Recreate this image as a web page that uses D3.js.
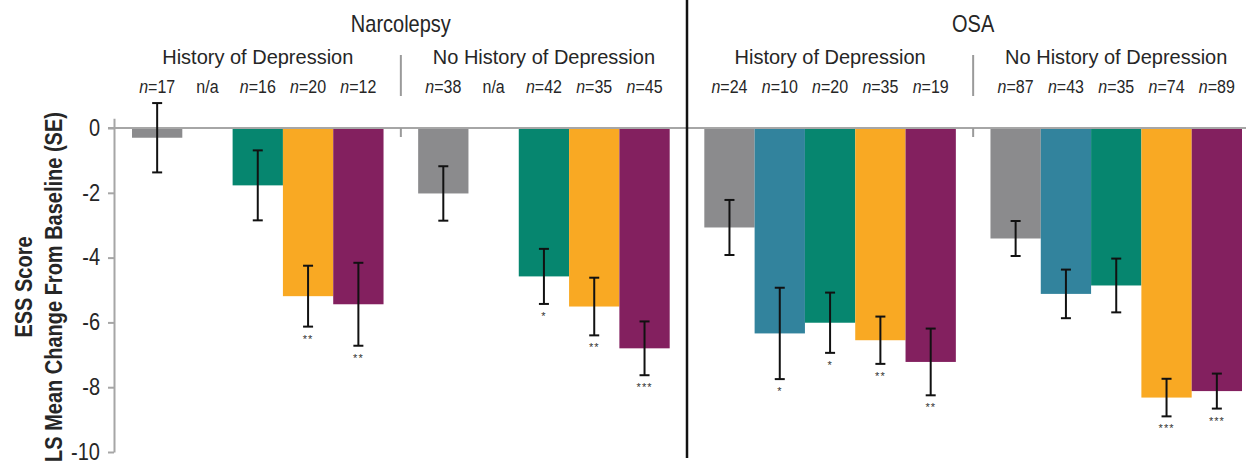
<!DOCTYPE html>
<html>
<head>
<meta charset="utf-8">
<script src="https://cdn.jsdelivr.net/npm/d3@7"></script>
<style>
  body { margin: 0; background: #fff; }
  text { font-family: "Liberation Sans", Arial, sans-serif; fill: #262626; }
</style>
</head>
<body>
<script>
'use strict';

// chart data
const diseases = ["Narcolepsy", "OSA"];
const groupNames = ["History of Depression", "No History of Depression",
                    "History of Depression", "No History of Depression"];
const series = ["Placebo", "37.5 mg", "75 mg", "150 mg", "300 mg"];
const colors = ["#8b8b8d", "#32839d", "#06866f", "#f9a923", "#83205f"];
const nLabels = [["17", null, "16", "20", "12"],
                 ["38", null, "42", "35", "45"],
                 ["24", "10", "20", "35", "19"],
                 ["87", "43", "35", "74", "89"]];
const means = [[-0.30, null, -1.77, -5.19, -5.44],
               [-2.02, null, -4.58, -5.51, -6.80],
               [-3.07, -6.34, -6.01, -6.55, -7.22],
               [-3.41, -5.12, -4.86, -8.32, -8.12]];
const ses = [[1.07, null, 1.08, 0.94, 1.28],
             [0.84, null, 0.85, 0.89, 0.83],
             [0.85, 1.41, 0.93, 0.73, 1.03],
             [0.54, 0.75, 0.83, 0.58, 0.54]];
const sig = [["", null, "", "**", "**"],
             ["", null, "*", "**", "***"],
             ["", "*", "*", "**", "**"],
             ["", "", "", "***", "***"]];
const yTicks = [0, -2, -4, -6, -8, -10];

const W = 1254, H = 469;
const K = 1.15; // the source text is a bit taller than Arial

const svg = d3.select("body").append("svg")
  .attr("width", W)
  .attr("height", H);

// scales
const x0 = d3.scaleBand()
  .domain(d3.range(groupNames.length))
  .range([132, 1242])
  .paddingInner(0.121)
  .paddingOuter(0);

const x1 = d3.scaleBand()
  .domain(d3.range(series.length))
  .range([0, x0.bandwidth()]);

const y = d3.scaleLinear()
  .domain([-10, 0.3])
  .range([452, 118.3]);

// put a text at (x, y) stretched vertically
function addText(parent, tx, ty, str, size, opts) {
  opts = opts || {};
  return parent.append("text")
    .attr("transform", `translate(${tx},${ty})${opts.rotate ? " rotate(" + opts.rotate + ")" : ""} scale(1,${opts.k || K})`)
    .attr("text-anchor", opts.anchor || "middle")
    .style("font-size", size + "px")
    .style("font-weight", opts.bold ? "bold" : null)
    .text(str);
}

// y axis
const yAxis = d3.axisLeft(y)
  .tickValues(yTicks)
  .tickFormat((d) => String(d))
  .tickSize(6)
  .tickSizeOuter(0)
  .tickPadding(8);

const gy = svg.append("g")
  .attr("transform", "translate(114,0)")
  .call(yAxis);
gy.select(".domain").attr("stroke", "#a6a6a6").attr("stroke-width", 2);
gy.selectAll(".tick line").attr("stroke", "#a6a6a6").attr("stroke-width", 2);
gy.selectAll(".tick text")
  .attr("fill", "#262626")
  .style("font-size", "20px")
  .style("font-family", "'Liberation Sans', Arial, sans-serif")
  .attr("transform", `scale(1,${K})`);

// bars
const rows = [];
means.forEach((arr, g) => arr.forEach((v, i) => {
  if (v !== null) rows.push({ g: g, i: i, v: v, se: ses[g][i], sig: sig[g][i] });
}));

svg.selectAll(".bar")
  .data(rows)
  .enter()
  .append("rect")
    .attr("class", "bar")
    .attr("x", (d) => x0(d.g) + x1(d.i))
    .attr("y", y(0))
    .attr("width", x1.bandwidth())
    .attr("height", (d) => y(d.v) - y(0))
    .attr("fill", (d) => colors[d.i]);

// zero line
svg.append("line")
  .attr("x1", 108)
  .attr("x2", 1246)
  .attr("y1", y(0))
  .attr("y2", y(0))
  .attr("stroke", "#a6a6a6")
  .attr("stroke-width", 2);

// error bars
const cx = (d) => x0(d.g) + x1(d.i) + x1.bandwidth() / 2;
const eb = svg.selectAll(".err")
  .data(rows)
  .enter()
  .append("g")
    .attr("class", "err")
    .attr("stroke", "#111")
    .attr("stroke-width", 2);
eb.append("line")
  .attr("x1", cx).attr("x2", cx)
  .attr("y1", (d) => y(d.v + d.se))
  .attr("y2", (d) => y(d.v - d.se));
eb.append("line")
  .attr("x1", (d) => cx(d) - 5).attr("x2", (d) => cx(d) + 5)
  .attr("y1", (d) => y(d.v + d.se)).attr("y2", (d) => y(d.v + d.se));
eb.append("line")
  .attr("x1", (d) => cx(d) - 5).attr("x2", (d) => cx(d) + 5)
  .attr("y1", (d) => y(d.v - d.se)).attr("y2", (d) => y(d.v - d.se));

// significance stars
rows.filter((d) => d.sig).forEach((d) => {
  addText(svg, cx(d), y(d.v - d.se) + 16, d.sig, 11, { k: 1 })
    .style("fill", "#333")
    .style("letter-spacing", "1px");
});

// separators
const bandEnd = (g) => x0(g) + x0.bandwidth();
const sepX = [0, 1, 2].map((g) => (bandEnd(g) + x0(g + 1)) / 2);

svg.append("line")
  .attr("x1", sepX[1]).attr("x2", sepX[1])
  .attr("y1", 0).attr("y2", 458)
  .attr("stroke", "#111")
  .attr("stroke-width", 2.5);

[sepX[0], sepX[2]].forEach((sx) => {
  svg.append("line")
    .attr("x1", sx).attr("x2", sx)
    .attr("y1", 55).attr("y2", 96)
    .attr("stroke", "#9a9a9a").attr("stroke-width", 2);
  svg.append("line")
    .attr("x1", sx).attr("x2", sx)
    .attr("y1", y(0)).attr("y2", y(0) + 9)
    .attr("stroke", "#9a9a9a").attr("stroke-width", 2);
});

// headers
diseases.forEach((name, k) => {
  addText(svg, sepX[k * 2], 32, name, 20, { k: 1.18 });
});
groupNames.forEach((name, g) => {
  addText(svg, x0(g) + x0.bandwidth() / 2, 64, name, 20, { k: 1.05 });
  nLabels[g].forEach((n, i) => {
    const t = addText(svg, x0(g) + x1(i) + x1.bandwidth() / 2, 93, "", 16, { k: 1.16 });
    if (n === null) {
      t.text("n/a");
    } else {
      t.append("tspan").style("font-style", "italic").text("n");
      t.append("tspan").text("=" + n);
    }
  });
});

// y axis title
addText(svg, 32, 287, "ESS Score", 20, { rotate: -90, bold: true, k: 1.22 });
addText(svg, 62, 287, "LS Mean Change From Baseline (SE)", 20, { rotate: -90, bold: true, k: 1.2 });
</script>
</body>
</html>
